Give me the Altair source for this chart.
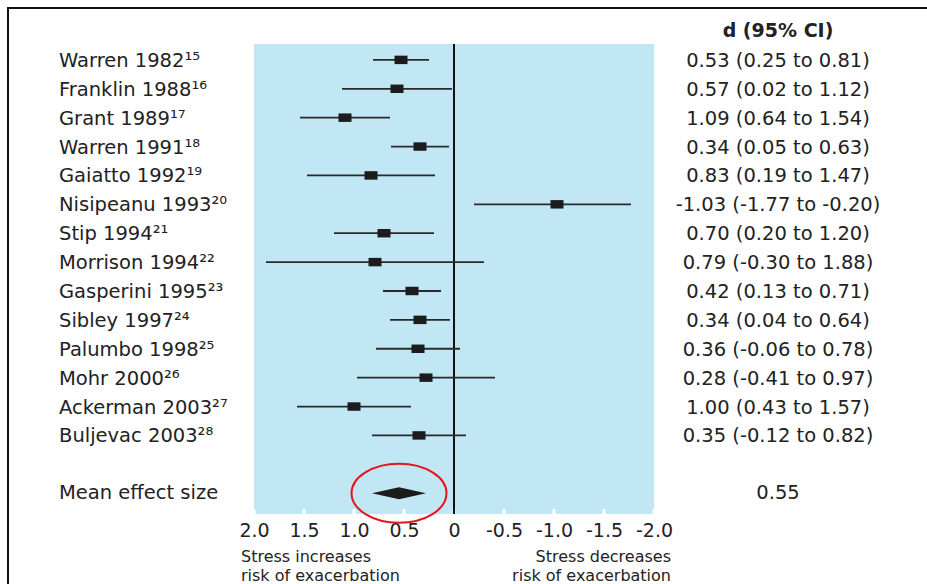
import altair as alt
import pandas as pd

studies = ["Warren 1982", "Franklin 1988", "Grant 1989", "Warren 1991", "Gaiatto 1992",
           "Nisipeanu 1993", "Stip 1994", "Morrison 1994", "Gasperini 1995", "Sibley 1997",
           "Palumbo 1998", "Mohr 2000", "Ackerman 2003", "Buljevac 2003"]
refs = [15, 16, 17, 18, 19, 20, 21, 22, 23, 24, 25, 26, 27, 28]
d_vals = [0.53, 0.57, 1.09, 0.34, 0.83, -1.03, 0.70, 0.79, 0.42, 0.34, 0.36, 0.28, 1.00, 0.35]
ci_lo = [0.25, 0.02, 0.64, 0.05, 0.19, -1.77, 0.20, -0.30, 0.13, 0.04, -0.06, -0.41, 0.43, -0.12]
ci_hi = [0.81, 1.12, 1.54, 0.63, 1.47, -0.20, 1.20, 1.88, 0.71, 0.64, 0.78, 0.97, 1.57, 0.82]
mean_effect = 0.55
tick_values = [2.0, 1.5, 1.0, 0.5, 0.0, -0.5, -1.0, -1.5, -2.0]

SUP = str.maketrans("0123456789", "⁰¹²³⁴⁵⁶⁷⁸⁹")

rows = list(range(len(studies)))
mean_row = len(studies) + 1

df = pd.DataFrame({
    "row": rows,
    "label": [s + str(r).translate(SUP) for s, r in zip(studies, refs)],
    "d": d_vals,
    "lo": ci_lo,
    "hi": ci_hi,
    "txt": [f"{d:.2f} ({l:.2f} to {h:.2f})" for d, l, h in zip(d_vals, ci_lo, ci_hi)],
})
mean_df = pd.DataFrame({"row": [mean_row], "d": [mean_effect],
                        "label": ["Mean effect size"], "txt": [f"{mean_effect:.2f}"]})
ticks_df = pd.DataFrame({"t": tick_values})
header_df = pd.DataFrame({"row": [-1], "txt": ["d (95% CI)"]})

FONT = "DejaVu Sans"
TXT = "#222222"

xscale = alt.Scale(domain=[2.0, -2.0], nice=False, zero=False)
yscale = alt.Scale(domain=[-0.55, 15.72], reverse=True, nice=False, zero=False)

X = lambda f: alt.X(f, type="quantitative", scale=xscale,
                    axis=alt.Axis(values=tick_values, title=None, domain=False, ticks=False, grid=False,
                                  labelFont=FONT, labelFontSize=19, labelColor=TXT, labelPadding=7,
                                  labelFlush=False, labelOverlap=False,
                                  labelExpr="datum.value == 0 ? '0' : replace(format(datum.value, '.1f'), '\u2212', '-')"))
Y = lambda f: alt.Y(f, type="quantitative", scale=yscale, axis=None)

base = alt.Chart(df)

frame = alt.Chart(ticks_df).mark_rect(fill=None, stroke="#111111", strokeWidth=2).encode(
    x=alt.value(-246), x2=alt.value(720), y=alt.value(-36), y2=alt.value(620))

white_ticks = alt.Chart(ticks_df).mark_rule(color="white", strokeWidth=3).encode(
    x=X("t"), y=alt.value(465), y2=alt.value(470))

zero_line = alt.Chart(pd.DataFrame({"z": [0.0]})).mark_rule(color="#111111", strokeWidth=2).encode(
    x=X("z"), y=alt.value(0), y2=alt.value(470))

whiskers = base.mark_rule(color="#2a2a2a", strokeWidth=1.8).encode(x=X("lo"), x2="hi", y=Y("row"))

squares = base.mark_point(shape="M-1,-0.65H1V0.65H-1Z", size=169, filled=True, fill="#1c1c1c",
                          opacity=1, strokeWidth=0).encode(x=X("d"), y=Y("row"))

diamond = alt.Chart(mean_df).mark_point(shape="M-1,0L0,-0.22L1,0L0,0.22Z", size=2916, filled=True,
                                        fill="#1c1c1c", opacity=1, strokeWidth=0).encode(x=X("d"), y=Y("row"))

ellipse = alt.Chart(mean_df).mark_point(shape="M-1,0A1,0.62,0,1,1,1,0A1,0.62,0,1,1,-1,0Z", size=9025,
                                        filled=False, stroke="#e8141c", strokeWidth=2, opacity=1).encode(
    x=X("d"), y=Y("row"))

names = base.mark_text(align="left", baseline="middle", font=FONT, fontSize=19.5, color=TXT, dy=1).encode(
    x=alt.value(-195), y=Y("row"), text="label")
values = base.mark_text(align="center", baseline="middle", font=FONT, fontSize=19.5, color=TXT, dy=1).encode(
    x=alt.value(524), y=Y("row"), text="txt")
mean_name = alt.Chart(mean_df).mark_text(align="left", baseline="middle", font=FONT, fontSize=19.5,
                                         color=TXT, dy=0).encode(x=alt.value(-195), y=Y("row"), text="label")
mean_val = alt.Chart(mean_df).mark_text(align="center", baseline="middle", font=FONT, fontSize=19.5,
                                        color=TXT, dy=0).encode(x=alt.value(524), y=Y("row"), text="txt")
header = alt.Chart(header_df).mark_text(align="center", baseline="middle", font=FONT, fontSize=19,
                                        fontWeight="bold", color=TXT).encode(
    x=alt.value(524), y=Y("row"), text="txt")

left_note = alt.Chart(header_df).mark_text(align="left", baseline="top", font=FONT, fontSize=16,
                                           lineHeight=18.5, color=TXT).encode(
    x=alt.value(-13), y=alt.value(505),
    text=alt.value(["Stress increases", "risk of exacerbation"]))
right_note = alt.Chart(header_df).mark_text(align="right", baseline="top", font=FONT, fontSize=16,
                                            lineHeight=18.5, color=TXT).encode(
    x=alt.value(417), y=alt.value(505),
    text=alt.value(["Stress decreases", "risk of exacerbation"]))

chart = alt.layer(
    frame, white_ticks, zero_line, whiskers, squares, diamond, ellipse,
    names, values, mean_name, mean_val, header, left_note, right_note
).properties(
    width=400, height=470,
    padding={"left": 254, "top": 44, "right": 273, "bottom": 70},
    autosize=alt.AutoSizeParams(type="none"),
    background="white",
).configure_view(fill="#c1e6f4", stroke=None)

chart.save("out.html", embed_options={"renderer": "svg", "actions": False})
